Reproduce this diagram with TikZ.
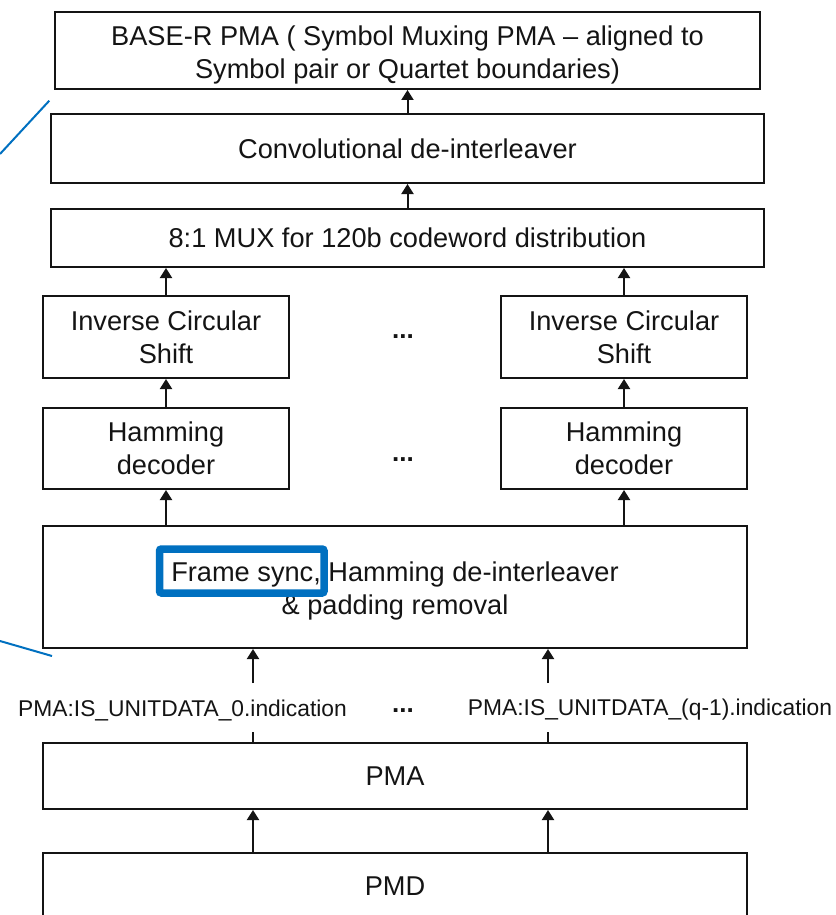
\documentclass[tikz,border=0pt]{standalone}
\usepackage{fontspec}
\setmainfont{Liberation Sans}
\usetikzlibrary{arrows.meta}
\definecolor{hlblue}{RGB}{0,112,192}
\definecolor{ink}{RGB}{20,20,20}
\begin{document}
\begin{tikzpicture}[x=1pt,y=-1pt,
  block/.style={draw=ink,line width=2pt,rectangle,inner sep=0pt,align=center,
    font=\fontsize{27.2}{33}\selectfont,text=ink},
  words/.style={inner sep=0pt,align=center,font=\fontsize{27.2}{33}\selectfont,text=ink},
  flow/.style={draw=ink,line width=2pt,-{Triangle[width=12pt,length=10pt]}},
  plain/.style={draw=ink,line width=2pt},
  sig/.style={font=\fontsize{22.8}{26}\selectfont,text=ink,inner sep=0pt},
  more/.style={font=\bfseries\fontsize{26}{30}\selectfont,text=ink,inner sep=0pt},
  callout/.style={draw=hlblue,line width=2pt},
]
\useasboundingbox (0,0) rectangle (835,915);

% stack of blocks
\node[block,minimum width=705pt,minimum height=77pt] (top) at (407.5,50.5) {};
\node[words] (topText) at (407.5,54.5)
  {BASE-R PMA ( Symbol Muxing PMA -- aligned to\\Symbol pair or Quartet boundaries)};
\node[block,minimum width=713pt,minimum height=69pt] (conv) at (407.5,148.5)
  {Convolutional de-interleaver};
\node[block,minimum width=713pt,minimum height=58pt] (mux) at (407.5,238)
  {8:1 MUX for 120b codeword distribution};
\node[block,minimum width=246pt,minimum height=82pt] (icsL) at (166,337)
  {Inverse Circular\\Shift};
\node[block,minimum width=246pt,minimum height=82pt] (icsR) at (624,337)
  {Inverse Circular\\Shift};
\node[block,minimum width=246pt,minimum height=81pt] (hamL) at (166,448.5)
  {Hamming\\decoder};
\node[block,minimum width=246pt,minimum height=81pt] (hamR) at (624,448.5)
  {Hamming\\decoder};
\node[block,minimum width=704pt,minimum height=122pt] (frame) at (395,587) {};
\node[words] (frameText) at (395,591)
  {Frame sync, Hamming de-interleaver\\\& padding removal};
\node[block,minimum width=704pt,minimum height=66pt] (pma) at (395,776) {PMA};
\node[block,minimum width=704pt,minimum height=66pt] (pmd) at (395,886) {PMD};

% ellipses between the parallel lanes
\node[more] (dotsA) at (403,337) {...};
\node[more] (dotsB) at (403,460) {...};
\node[more] (dotsC) at (403,711) {...};

% service primitive labels
\node[sig] (sigL) at (182.5,710) {PMA:IS\_UNITDATA\_0.indication};
\node[sig] (sigR) at (650,710) {PMA:IS\_UNITDATA\_(q-1).indication};

% vertical data flow
\draw[flow] (conv.north) -- (top.south);
\draw[flow] (mux.north) -- (conv.south);
\draw[flow] (icsL.north) -- (icsL.north |- mux.south);
\draw[flow] (icsR.north) -- (icsR.north |- mux.south);
\draw[flow] (hamL.north) -- (icsL.south);
\draw[flow] (hamR.north) -- (icsR.south);
\draw[flow] (hamL.south |- frame.north) -- (hamL.south);
\draw[flow] (hamR.south |- frame.north) -- (hamR.south);

\coordinate (laneA) at (253,0);
\coordinate (laneB) at (548,0);
\coordinate (aLow) at (253,732);
\coordinate (aHigh) at (253,683);
\coordinate (bLow) at (548,732);
\coordinate (bHigh) at (548,683);
\draw[plain] (laneA |- pma.north) -- (aLow);
\draw[plain] (laneB |- pma.north) -- (bLow);
\draw[flow] (aHigh) -- (laneA |- frame.south);
\draw[flow] (bHigh) -- (laneB |- frame.south);
\draw[flow] (laneA |- pmd.north) -- (laneA |- pma.south);
\draw[flow] (laneB |- pmd.north) -- (laneB |- pma.south);

% highlight and zoom guides
\draw[draw=hlblue,line width=7.5pt,rounded corners=2pt] (159.5,549) rectangle (324,593);
\coordinate (gA0) at (0,154);
\coordinate (gA1) at (49.3,100.7);
\coordinate (gB0) at (0,641);
\coordinate (gB1) at (52,656);
\draw[callout] (gA0) -- (gA1);
\draw[callout] (gB0) -- (gB1);
\end{tikzpicture}
\end{document}
